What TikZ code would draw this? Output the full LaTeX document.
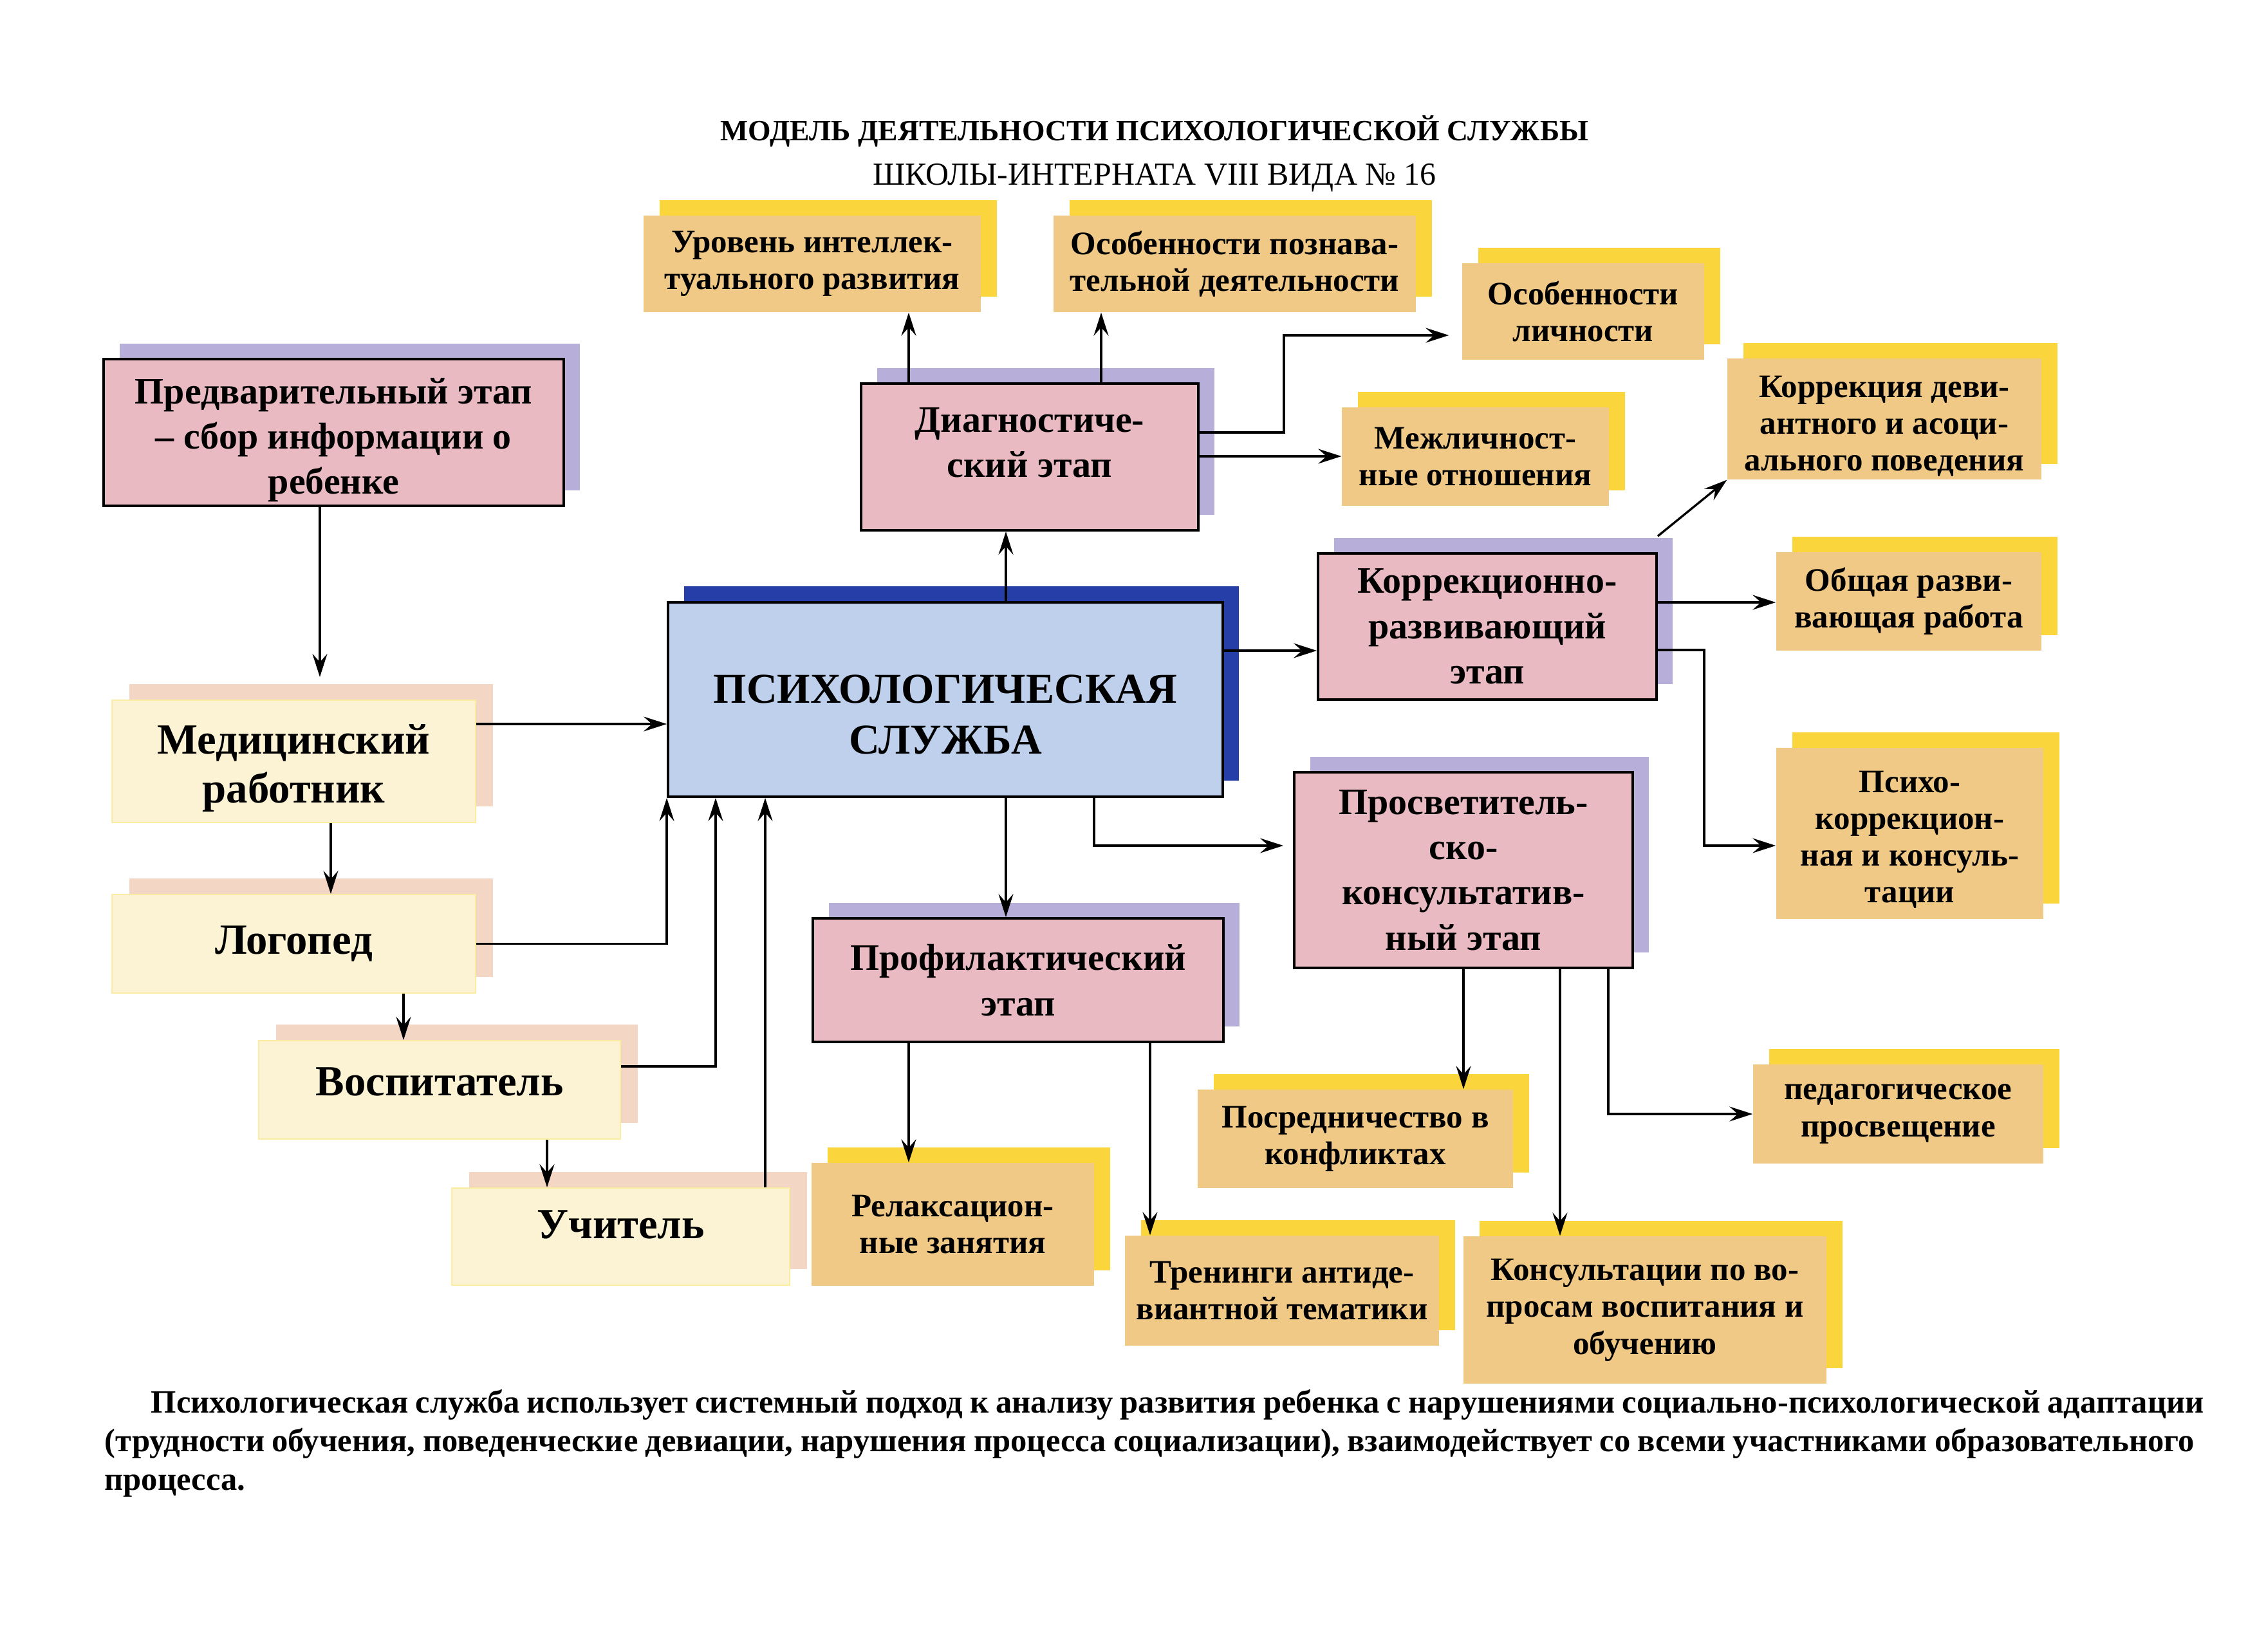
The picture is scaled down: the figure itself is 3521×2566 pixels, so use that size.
\documentclass[tikz,border=0pt]{standalone}
\usepackage{fontspec}
\setmainfont{Liberation Serif}
\usetikzlibrary{arrows.meta,shadows}

\definecolor{stagefill}{RGB}{233,186,194}
\definecolor{stageshade}{RGB}{184,174,218}
\definecolor{corefill}{RGB}{190,208,236}
\definecolor{coreshade}{RGB}{38,62,168}
\definecolor{itemfill}{RGB}{241,201,134}
\definecolor{itemshade}{RGB}{250,214,60}
\definecolor{staffill}{RGB}{252,243,212}
\definecolor{staffline}{RGB}{250,236,160}
\definecolor{staffshade}{RGB}{244,214,196}

% struts to move a label up or down inside its box
\newcommand{\liftby}[1]{\rule[-#1]{0pt}{#1}}
\newcommand{\dropto}[1]{\rule{0pt}{#1}}

\begin{document}
\begin{tikzpicture}[x=0.1mm,y=-0.1mm,>={Stealth[length=3.6mm,width=2.3mm,inset=1.3mm]}]
  \tikzstyle{stage}=[draw=black,line width=1.1pt,fill=stagefill,align=center,inner sep=0pt,
    font=\bfseries\fontsize{16.5}{20}\selectfont,
    general shadow={shadow xshift=2.5mm,shadow yshift=2.4mm,fill=stageshade}]
  \tikzstyle{core}=[draw=black,line width=1.1pt,fill=corefill,align=center,inner sep=0pt,
    font=\bfseries\fontsize{18.8}{22.5}\selectfont,
    general shadow={shadow xshift=2.5mm,shadow yshift=2.5mm,fill=coreshade}]
  \tikzstyle{item}=[fill=itemfill,align=center,inner sep=0pt,
    font=\bfseries\fontsize{14.5}{16.3}\selectfont,
    general shadow={shadow xshift=2.5mm,shadow yshift=2.4mm,fill=itemshade}]
  \tikzstyle{staff}=[draw=staffline,line width=0.6pt,fill=staffill,align=center,inner sep=0pt,
    font=\bfseries\fontsize{19}{21.7}\selectfont,
    general shadow={shadow xshift=2.7mm,shadow yshift=2.5mm,fill=staffshade}]
  \tikzstyle{link}=[->,line width=0.95pt]

  \fill[white] (0,0) rectangle (3521,2566);
  \useasboundingbox (0,0) rectangle (3521,2566);

  % heading
  \node[font=\bfseries\fontsize{13}{15}\selectfont,anchor=base] (title) at (1794,218)
    {МОДЕЛЬ ДЕЯТЕЛЬНОСТИ ПСИХОЛОГИЧЕСКОЙ СЛУЖБЫ};
  \node[font=\fontsize{14.2}{16}\selectfont,anchor=base] (subtitle) at (1794,287)
    {ШКОЛЫ-ИНТЕРНАТА VIII ВИДА № 16};

  % stages
  \node[stage,minimum width=7.15cm,minimum height=2.28cm] (prelim) at (518.5,672) {\dropto{18pt}Предварительный этап\\– сбор информации о\\ребенке};
  \node[stage,minimum width=5.24cm,minimum height=2.28cm] (diag) at (1600,710) {Диагностиче-\\ский этап\liftby{13pt}};
  \node[core,minimum width=8.62cm,minimum height=3.02cm] (core) at (1469,1087) {\dropto{26pt}ПСИХОЛОГИЧЕСКАЯ\\СЛУЖБА};
  \node[stage,minimum width=5.26cm,minimum height=2.27cm] (corr) at (2311,973.5) {Коррекционно-\\развивающий\\этап};
  \node[stage,minimum width=5.26cm,minimum height=3.04cm] (edu) at (2274,1352) {Просветитель-\\ско-\\консультатив-\\ный этап};
  \node[stage,minimum width=6.38cm,minimum height=1.92cm] (prev) at (1582,1523) {Профилактический\\этап};

  % staff
  \node[staff,minimum width=5.65cm,minimum height=1.9cm] (medic) at (456.5,1183) {\dropto{19pt}Медицинский\\работник};
  \node[staff,minimum width=5.65cm,minimum height=1.53cm] (logo) at (456.5,1466.5) {Логопед};
  \node[staff,minimum width=5.62cm,minimum height=1.53cm] (tutor) at (683,1693.5) {Воспитатель\liftby{7.5pt}};
  \node[staff,minimum width=5.25cm,minimum height=1.51cm] (teach) at (964.5,1921.5) {Учитель\liftby{11pt}};

  % directions of work
  \node[item,minimum width=5.24cm,minimum height=1.5cm] (intel) at (1262,410) {Уровень интеллек-\\туального развития};
  \node[item,minimum width=5.63cm,minimum height=1.5cm] (cogn) at (1918.5,410) {Особенности познава-\\тельной деятельности};
  \node[item,minimum width=3.76cm,minimum height=1.5cm] (pers) at (2460,484) {Особенности\\личности};
  \node[item,minimum width=4.15cm,minimum height=1.53cm] (inter) at (2292.5,709.5) {Межличност-\\ные отношения};
  \node[item,minimum width=4.88cm,minimum height=1.88cm] (devi) at (2928,651) {\dropto{16pt}Коррекция деви-\\антного и асоци-\\ального поведения};
  \node[item,minimum width=4.12cm,minimum height=1.53cm] (gendev) at (2966,934.5) {Общая разви-\\вающая работа};
  \node[item,minimum width=4.15cm,minimum height=2.66cm] (psycor) at (2967.5,1295) {\dropto{15pt}Психо-\\коррекцион-\\ная и консуль-\\тации};
  \node[item,minimum width=4.51cm,minimum height=1.54cm] (pedag) at (2949.5,1731) {педагогическое\\просвещение};
  \node[item,minimum width=5.64cm,minimum height=2.29cm] (consult) at (2556,2035.5) {Консультации по во-\\просам воспитания и\\обучению};
  \node[item,minimum width=4.9cm,minimum height=1.53cm] (mediat) at (2106,1769.5) {Посредничество в\\конфликтах};
  \node[item,minimum width=4.39cm,minimum height=1.91cm] (relax) at (1480.5,1902.5) {Релаксацион-\\ные занятия};
  \node[item,minimum width=4.88cm,minimum height=1.71cm] (train) at (1992,2005.5) {Тренинги антиде-\\виантной тематики};

  % connectors
  \draw[link,shorten >=3.5mm] (prelim.south-|497,0) -- (medic.north-|497,0);
  \draw[link] (medic.south-|514,0) -- (logo.north-|514,0);
  \draw[link] (logo.south-|627,0) -- (tutor.north-|627,0);
  \draw[link] (tutor.south-|850,0) -- (teach.north-|850,0);
  \draw[link] (medic.east|-0,1125) -- (core.west|-0,1125);
  \draw[link] (logo.east) -| (core.south west);
  \draw[link] (tutor.east|-0,1657) -| (core.south-|1112,0);
  \draw[link] (teach.north-|1189,0) -- (core.south-|1189,0);

  \draw[link] (core.north-|1563,0) -- (diag.south-|1563,0);
  \draw[link] (diag.north-|1412,0) -- (intel.south-|1412,0);
  \draw[link] (diag.north-|1711,0) -- (cogn.south-|1711,0);
  \draw[link,shorten >=2mm] (diag.east|-0,672) -| (1995,521) -- (pers.west|-0,521);
  \draw[link] (diag.east|-0,709) -- (inter.west|-0,709);

  \draw[link] (core.east|-0,1011) -- (corr.west|-0,1011);
  \draw[link] ([yshift=2.5mm]corr.north east) -- (devi.south west);
  \draw[link] (corr.east|-0,936) -- (gendev.west|-0,936);
  \draw[link] (corr.east|-0,1010) -| (2648,1314) -- (psycor.west|-0,1314);

  \draw[link] (core.south-|1563,0) -- (prev.north-|1563,0);
  \draw[link,shorten >=1.5mm] (core.south-|1700,0) |- (edu.west|-0,1314);
  \draw[link] (prev.south-|1412,0) -- (relax.north-|1412,0);
  \draw[link] (prev.south-|1787,0) -- (train.north-|1787,0);
  \draw[link] (edu.south-|2274,0) -- (mediat.north-|2274,0);
  \draw[link] (edu.south-|2424,0) -- (consult.north-|2424,0);
  \draw[link] (edu.south-|2499,0) |- (pedag.west);

  % note under the scheme
  \node[font=\bfseries\fontsize{14.4}{17}\selectfont,align=left,anchor=north west,inner sep=0pt] (note) at (162,2159)
    {\hspace*{7.2mm}\makebox[31.9cm][s]{Психологическая служба использует системный подход к анализу развития ребенка с нарушениями социально-психологической адаптации}\\
     \makebox[32.47cm][s]{(трудности обучения, поведенческие девиации, нарушения процесса социализации), взаимодействует со всеми участниками образовательного}\\
     процесса.};
\end{tikzpicture}
\end{document}
